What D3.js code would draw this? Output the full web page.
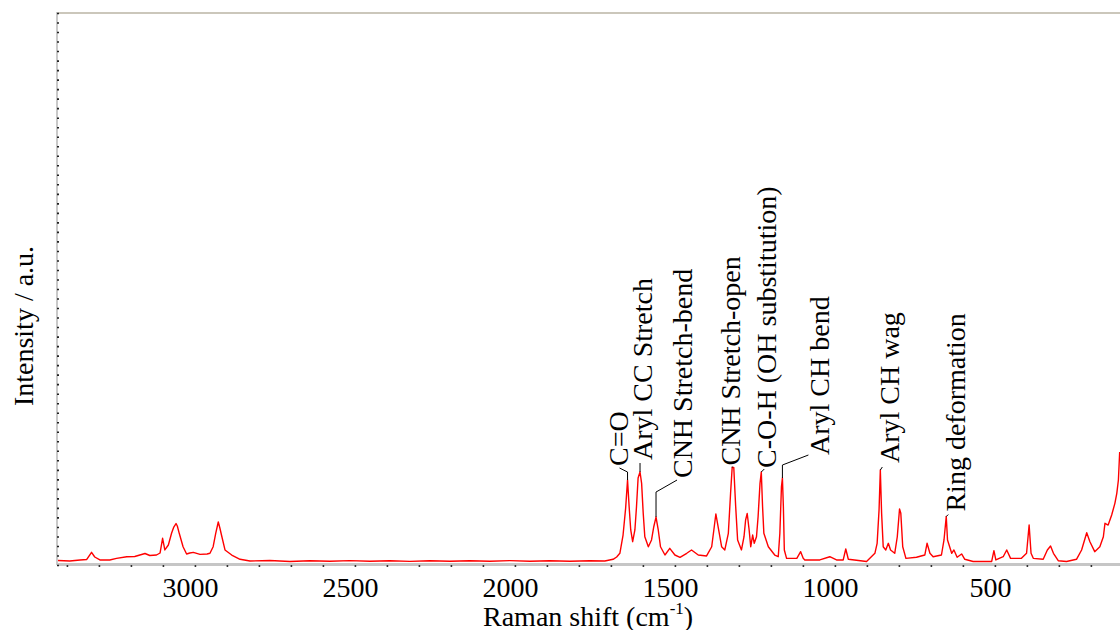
<!DOCTYPE html>
<html>
<head>
<meta charset="utf-8">
<script src="https://cdn.jsdelivr.net/npm/d3@7"></script>
<style>
  html, body { margin: 0; padding: 0; background: #fff; }
  svg { display: block; }
</style>
</head>
<body>
<svg id="chart" width="1120" height="630"></svg>
<script>
// Raman spectrum: shift (cm-1) and intensity (a.u.)
const shift = [
  3428, 3391, 3359, 3338, 3323, 3313, 3297, 3266, 3245, 3213,
  3188, 3156, 3141, 3120, 3109, 3101, 3094, 3083, 3073, 3066,
  3059, 3055, 3049, 3037, 3026, 3016, 3005, 2984, 2962, 2953,
  2943, 2935, 2927, 2922, 2917, 2906, 2885, 2859, 2828, 2766,
  2703, 2641, 2578, 2516, 2453, 2391, 2328, 2266, 2203, 2141,
  2078, 2016, 1953, 1891, 1828, 1766, 1719, 1693, 1682, 1672,
  1662, 1654, 1648, 1643, 1638, 1632, 1625, 1620, 1615, 1609,
  1604, 1599, 1594, 1583, 1573, 1566, 1559, 1552, 1545, 1531,
  1516, 1500, 1484, 1463, 1448, 1427, 1401, 1385, 1377, 1372,
  1365, 1354, 1344, 1333, 1326, 1321, 1316, 1310, 1304, 1292,
  1284, 1279, 1274, 1268, 1263, 1257, 1252, 1245, 1240, 1234,
  1230, 1226, 1222, 1208, 1188, 1177, 1172, 1167, 1164, 1161,
  1158, 1151, 1119, 1107, 1099, 1094, 1047, 1016, 995, 974,
  966, 958, 901, 875, 868, 862, 858, 854, 849, 841,
  833, 826, 813, 805, 798, 794, 788, 778, 745, 719,
  712, 703, 693, 667, 659, 652, 648, 635, 628, 618,
  604, 594, 568, 510, 503, 497, 474, 463, 451, 417,
  401, 393, 387, 380, 349, 336, 326, 317, 302, 276,
  245, 229, 213, 203, 188, 172, 161, 156, 146, 135,
  125, 119, 114, 110
];
const intensity = [
  4.7, 4.2, 5.3, 5.8, 13.3, 8.4, 5.3, 5.3, 7.0, 8.7,
  8.9, 12.1, 10.0, 10.5, 12.6, 28.1, 15.8, 21.0, 33.3, 39.9,
  43.6, 41.0, 33.3, 19.2, 11.6, 12.6, 13.3, 11.2, 11.6, 12.3,
  19.2, 33.3, 45.2, 38.9, 31.5, 15.8, 10.5, 6.0, 4.2, 4.7,
  3.7, 4.4, 3.9, 4.6, 4.0, 4.5, 3.8, 4.4, 3.9, 4.5,
  4.0, 4.6, 3.9, 4.4, 4.0, 4.4, 4.2, 6.0, 8.4, 12.3,
  31.5, 59.5, 89.3, 61.2, 36.8, 24.5, 36.8, 61.2, 91.4, 97.7,
  85.8, 54.3, 29.7, 19.2, 26.3, 40.2, 50.4, 36.8, 19.2, 10.5,
  17.5, 10.5, 8.1, 12.3, 15.8, 10.5, 9.5, 19.2, 40.2, 53.6,
  40.2, 19.2, 15.8, 33.3, 75.3, 102.4, 102.4, 61.2, 26.3, 15.8,
  29.7, 47.3, 54.1, 36.8, 19.2, 31.5, 22.8, 29.7, 50.7, 85.8,
  97.7, 61.2, 33.3, 19.2, 10.5, 8.7, 33.3, 82.2, 91.4, 61.2,
  15.8, 7.0, 7.0, 14.0, 7.0, 5.3, 5.3, 8.7, 5.3, 5.3,
  16.8, 6.0, 3.7, 12.3, 22.8, 57.8, 99.8, 54.3, 19.2, 15.8,
  22.8, 15.8, 12.3, 29.7, 58.8, 54.3, 19.2, 7.0, 8.1, 10.5,
  22.8, 12.3, 8.7, 10.5, 26.3, 50.9, 26.3, 12.3, 15.8, 8.1,
  11.6, 6.0, 3.7, 3.7, 15.0, 5.3, 8.7, 15.8, 7.0, 7.0,
  12.3, 42.0, 12.3, 7.0, 6.0, 15.8, 20.0, 12.3, 4.5, 3.7,
  6.0, 15.8, 33.9, 24.5, 14.0, 19.2, 29.7, 43.8, 42.0, 52.5,
  64.8, 75.3, 89.3, 118.7
];

// Band assignments and the shift of each assigned peak
const peakNames = [
  "C=O", "Aryl CC Stretch", "CNH Stretch-bend", "CNH Stretch-open",
  "C-O-H (OH substitution)", "Aryl CH bend", "Aryl CH wag", "Ring deformation"
];
const peakShifts = [1648, 1609, 1559, 1321, 1230, 1164, 858, 652];

// Axis ticks
const minorTicks = d3.range(3400, 100, -100);
const labelTicks = [3000, 2500, 2000, 1500, 1000, 500];
const yTicks = d3.range(0, 581, 10);

// Leader lines and label placement, in pixels from each peak top
const leaderPaths = [
  [[0, 0], [0, -8], [-8, -12]],
  [[0, 0], [0, -9]],
  [[0, 0], [0, -25], [21, -37]],
  [[0, 0], [0, -1]],
  [[0, 0], [3, -3]],
  [[0, 0], [0, -13], [26, -23]],
  [[0, 0], [2, -3]],
  [[0, 0], [2, -2]]
];
const labelOffsets = [
  [0, -14], [12, -12], [36, -39], [8, -2],
  [15, -4], [47, -23], [19, -7], [19, -5]
];

const serif = "Liberation Serif";
const fontSize = 28;
const plot = { left: 57, right: 1120, top: 13, bottom: 565 };
const svg = d3.select("#chart");

const x = d3.scaleLinear().domain([3431, 109]).range([plot.left, plot.right]);
const y = d3.scaleLinear().domain([0, 580]).range([plot.bottom, plot.top]);

// frame
svg.append("line")
  .attr("x1", plot.left).attr("x2", plot.right)
  .attr("y1", plot.top).attr("y2", plot.top)
  .attr("stroke", "#cbc7bb").attr("stroke-width", 2);
svg.append("line")
  .attr("x1", plot.left).attr("x2", plot.left)
  .attr("y1", plot.top - 1).attr("y2", plot.bottom)
  .attr("stroke", "#c9c9c9").attr("stroke-width", 2);
svg.append("line")
  .attr("x1", plot.left).attr("x2", plot.right)
  .attr("y1", plot.bottom - 0.5).attr("y2", plot.bottom - 0.5)
  .attr("stroke", "#c6c6c6").attr("stroke-width", 3);

// left axis: small tick marks only
const yAxis = svg.append("g")
  .attr("transform", `translate(${plot.left},0)`)
  .call(d3.axisRight(y).tickValues(yTicks).tickSize(2).tickFormat(""));
yAxis.select(".domain").remove();
yAxis.selectAll(".tick line").attr("stroke", "#222").attr("stroke-width", 1.6);

// bottom axis: minor ticks
const xAxis = svg.append("g")
  .attr("transform", `translate(0,${plot.bottom})`)
  .call(d3.axisBottom(x).tickValues(minorTicks).tickSize(2).tickFormat(""));
xAxis.select(".domain").remove();
xAxis.selectAll(".tick line").attr("stroke", "#333").attr("stroke-width", 1.6);

// bottom axis: labels
const xLabels = svg.append("g")
  .attr("transform", `translate(0,${plot.bottom})`)
  .call(d3.axisBottom(x).tickValues(labelTicks).tickSize(0).tickFormat(d3.format("d")))
  .attr("font-family", serif)
  .attr("font-size", fontSize);
xLabels.select(".domain").remove();
xLabels.selectAll(".tick text")
  .attr("y", 32).attr("dy", 0).attr("dx", -5)
  .attr("fill", "#000");

// spectrum
const pts = shift.map((s, i) => [s, intensity[i]]);
svg.append("clipPath").attr("id", "plot-clip")
  .append("rect")
  .attr("x", plot.left + 1).attr("y", plot.top + 1)
  .attr("width", plot.right - plot.left).attr("height", plot.bottom - plot.top - 3);
svg.append("path")
  .datum(pts)
  .attr("clip-path", "url(#plot-clip)")
  .attr("fill", "none")
  .attr("stroke", "#ff0000")
  .attr("stroke-width", 1.4)
  .attr("stroke-linejoin", "round")
  .attr("d", d3.line().x(d => x(d[0])).y(d => y(d[1])));

// band labels with leader lines
peakNames.forEach((name, i) => {
  const k = shift.indexOf(peakShifts[i]);
  const px = x(peakShifts[i]);
  const py = y(intensity[k]);
  svg.append("path")
    .attr("fill", "none")
    .attr("stroke", "#000")
    .attr("stroke-width", 1)
    .attr("d", d3.line()(leaderPaths[i].map(p => [px + p[0], py + p[1]])));
  svg.append("text")
    .attr("transform", `translate(${px + labelOffsets[i][0]},${py + labelOffsets[i][1]}) rotate(-90)`)
    .attr("text-anchor", "start")
    .attr("font-family", serif)
    .attr("font-size", fontSize)
    .attr("fill", "#000")
    .text(name);
});

// axis titles
const xt = svg.append("text")
  .attr("x", 483).attr("y", 626)
  .attr("font-family", serif)
  .attr("font-size", fontSize)
  .attr("fill", "#000");
xt.append("tspan").text("Raman shift (cm");
xt.append("tspan").attr("font-size", 17).attr("dy", -12).text("-1");
xt.append("tspan").attr("dy", 12).text(")");

svg.append("text")
  .attr("transform", "translate(33,326) rotate(-90)")
  .attr("text-anchor", "middle")
  .attr("font-family", serif)
  .attr("font-size", fontSize)
  .attr("fill", "#000")
  .text("Intensity / a.u.");
</script>
</body>
</html>
